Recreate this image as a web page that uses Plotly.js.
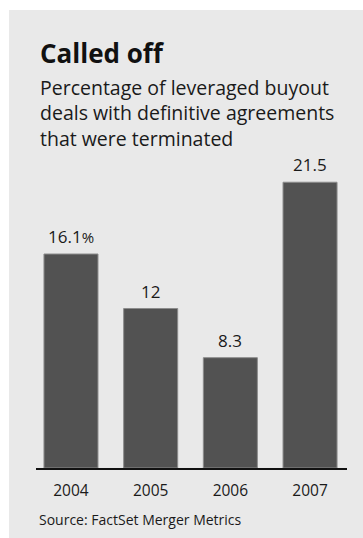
<!DOCTYPE html>
<html>
<head>
<meta charset="utf-8">
<script src="https://cdn.plot.ly/plotly-3.0.1.min.js"></script>
<style>
  html, body { margin: 0; padding: 0; background: #ffffff; width: 363px; height: 538px; overflow: hidden; }
  #chart { position: absolute; left: 9px; top: 10px; width: 354px; height: 528px; }
</style>
</head>
<body>
<div id="chart"></div>
<script>
const years = ["2004", "2005", "2006", "2007"];
const values = [16.1, 12, 8.3, 21.5];
const valueLabels = ["16.1<span style=\"font-size:15px\">%</span>", "12", "8.3", "21.5"];
const titleText = "Called off";
const subtitleText = "Percentage of leveraged buyout<br>deals with definitive agreements<br>that were terminated";
const sourceText = "Source: FactSet Merger Metrics";

const FONT = "Open Sans, Noto Sans, sans-serif";
const ink = "#1a1a1a";

const trace = {
  type: "bar",
  x: years,
  y: values,
  width: 0.678,
  marker: { color: "#525252", line: { color: "#8c8c8c", width: 1 } },
  hoverinfo: "skip"
};

const annotations = [];
years.forEach((yr, i) => {
  annotations.push({
    x: i, y: values[i], xref: "x", yref: "y",
    text: valueLabels[i], showarrow: false,
    xanchor: "center", yanchor: "bottom", yshift: 4,
    font: { family: FONT, size: 17, color: ink }
  });
});
annotations.push({
  xref: "paper", yref: "paper", x: 0, y: 1,
  xanchor: "left", yanchor: "middle", xshift: 2, yshift: 96,
  text: "<b>" + titleText + "</b>", showarrow: false, align: "left",
  font: { family: FONT, size: 26, color: "#111111" }
});
annotations.push({
  xref: "paper", yref: "paper", x: 0, y: 1,
  xanchor: "left", yanchor: "middle", xshift: 2, yshift: 36,
  text: subtitleText, showarrow: false, align: "left",
  font: { family: FONT, size: 19.5, color: ink }
});
annotations.push({
  xref: "paper", yref: "paper", x: 0, y: 0,
  xanchor: "left", yanchor: "middle", xshift: 1, yshift: -51,
  text: sourceText, showarrow: false, align: "left",
  font: { family: FONT, size: 14, color: ink }
});

const layout = {
  width: 354, height: 528,
  margin: { l: 27, r: 16, t: 139, b: 70, pad: 0 },
  paper_bgcolor: "#e9e9e9",
  plot_bgcolor: "rgba(0,0,0,0)",
  showlegend: false,
  xaxis: {
    type: "category",
    range: [-0.439, 3.464],
    showline: true, linecolor: "#111111", linewidth: 1.5,
    showgrid: false, zeroline: false,
    ticks: "outside", ticklen: 8, tickcolor: "rgba(0,0,0,0)",
    tickfont: { family: FONT, size: 15.5, color: ink },
    fixedrange: true
  },
  yaxis: {
    range: [0, 24],
    showticklabels: false, showline: false, ticks: "",
    showgrid: false, zeroline: false,
    fixedrange: true
  },
  annotations: annotations
};

Plotly.newPlot("chart", [trace], layout, { displayModeBar: false, staticPlot: true });
</script>
</body>
</html>
